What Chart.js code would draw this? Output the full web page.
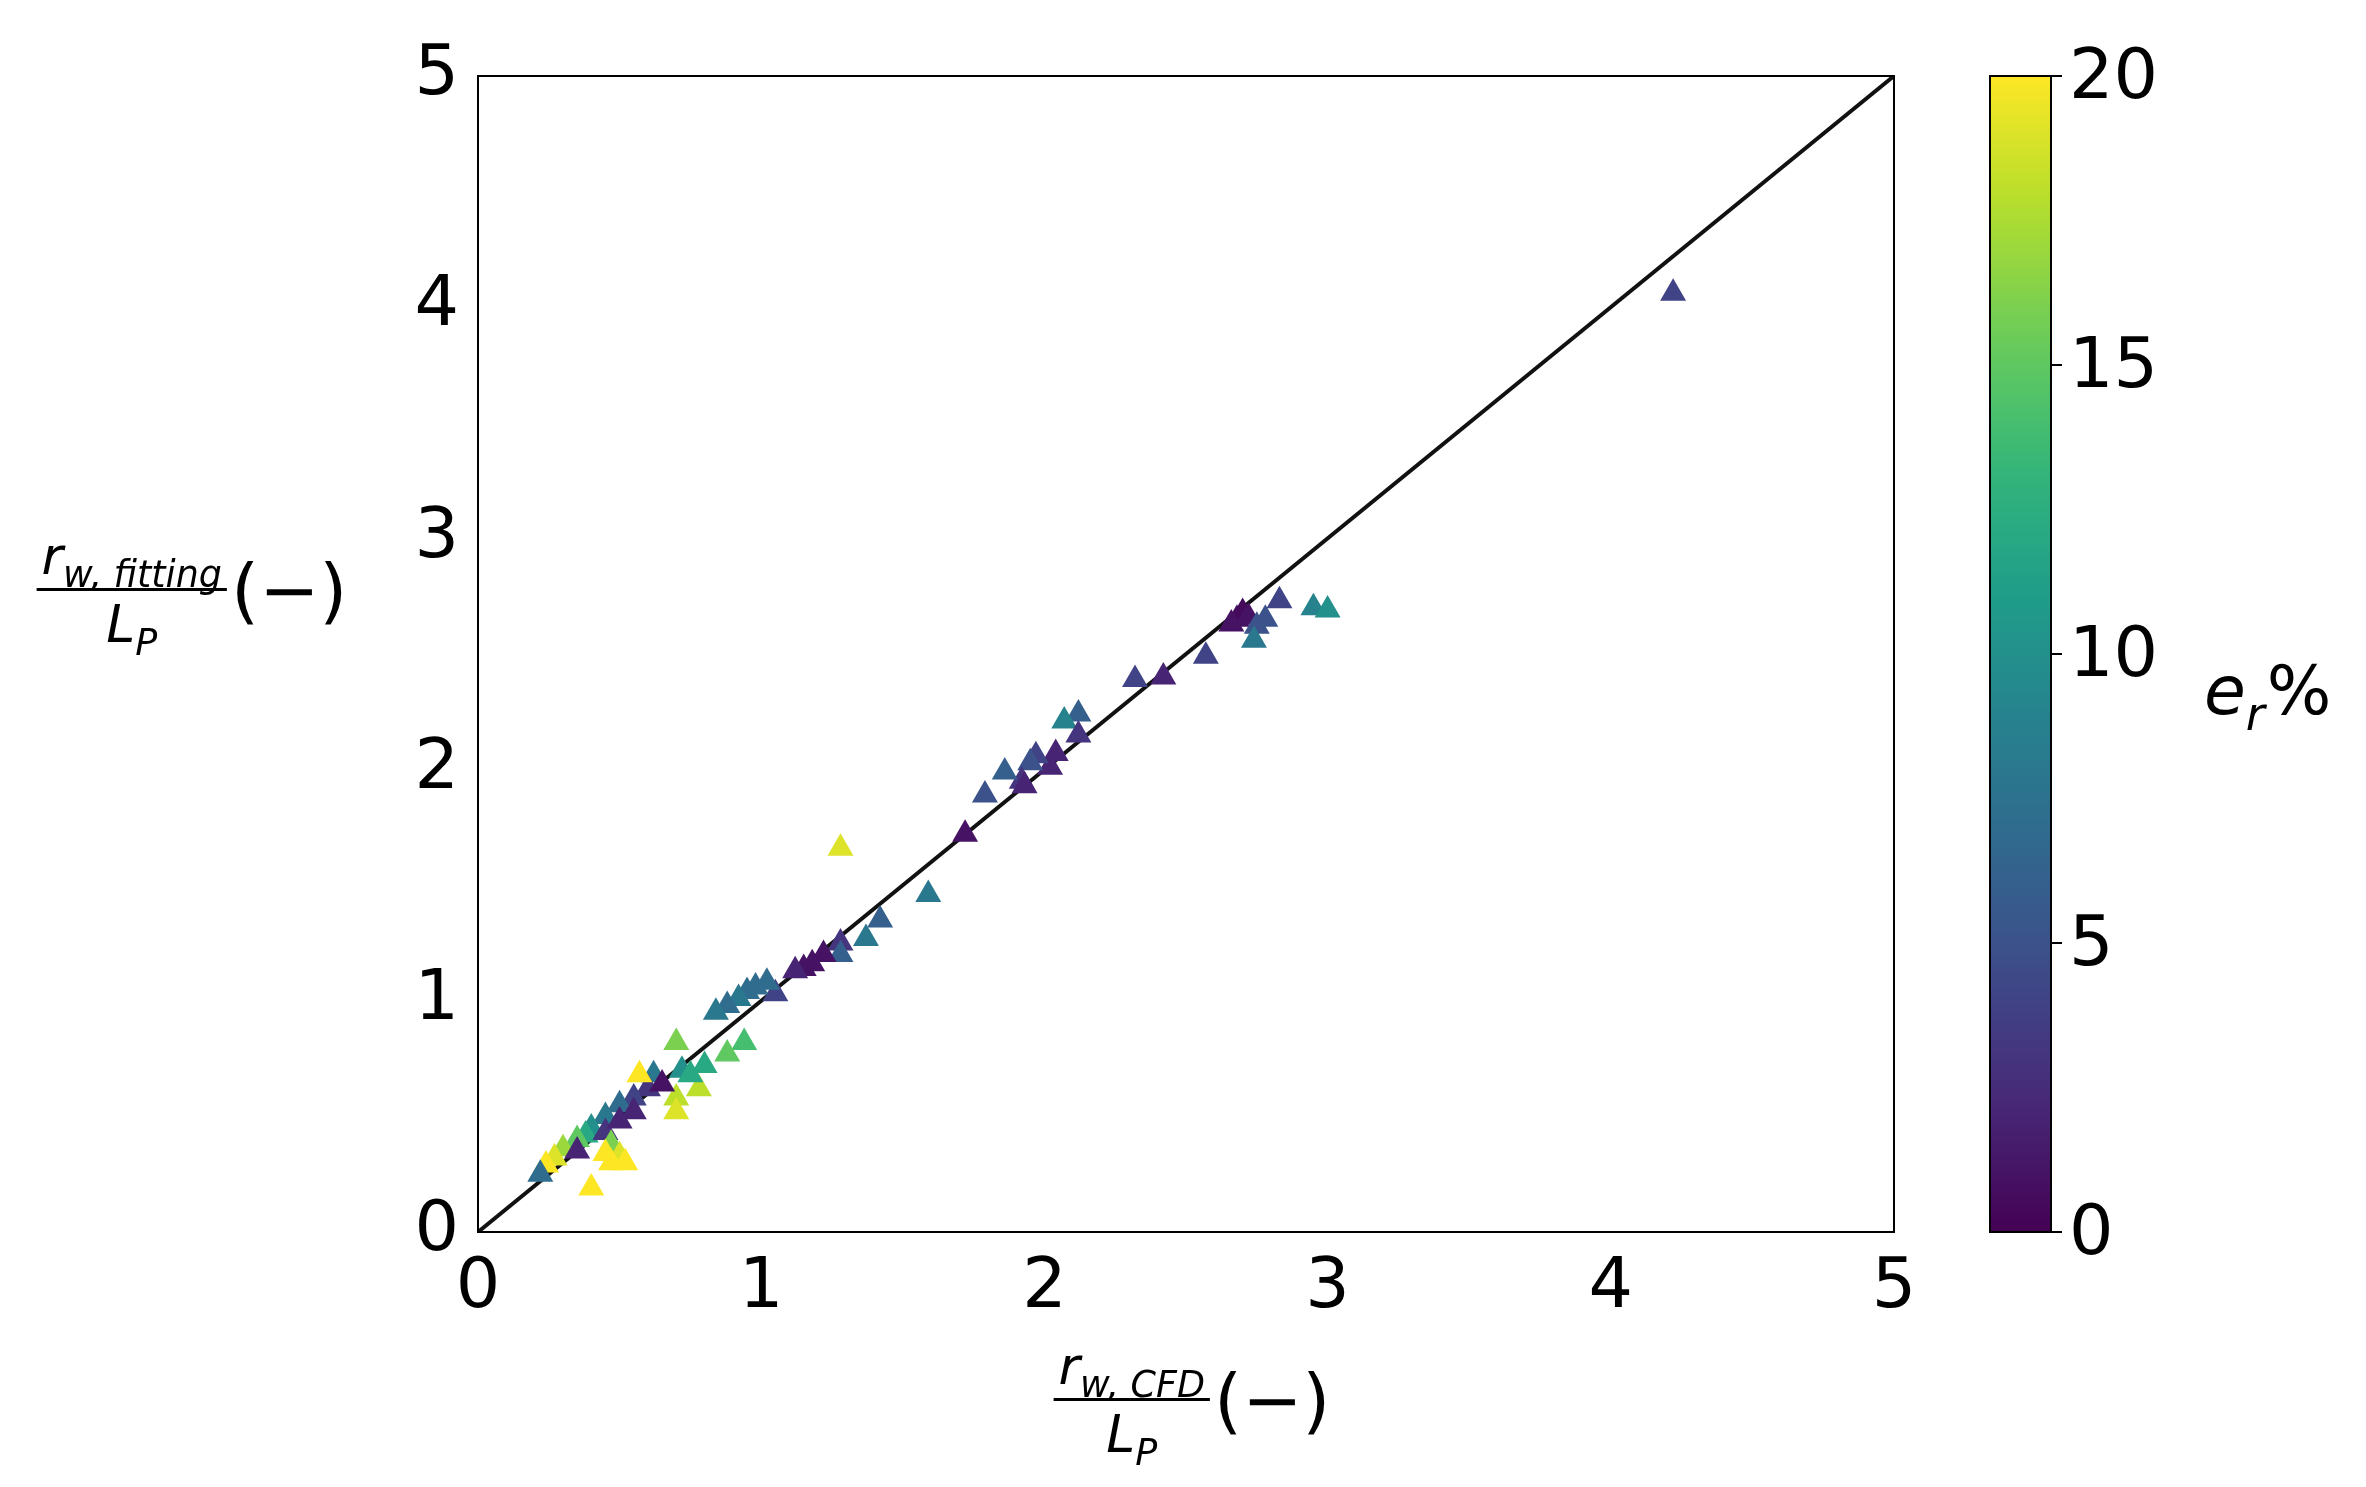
<!DOCTYPE html>
<html>
<head>
<meta charset="utf-8">
<script src="https://cdn.jsdelivr.net/npm/chart.js@4.4.0/dist/chart.umd.min.js"></script>
<style>
  html, body { margin: 0; padding: 0; background: #fff; }
  #wrap { width: 2366px; height: 1487px; }
</style>
</head>
<body>
<div id="wrap"><canvas id="chart" width="2366" height="1487"></canvas></div>
<script>
// r_w,CFD / L_P
const xCfd = [4.22, 2.68, 2.70, 2.72, 2.66, 2.75, 2.78, 2.74, 2.83, 2.95, 3.00,
  2.57, 2.42, 2.32, 2.12, 2.07, 2.12, 2.04, 2.02, 1.97, 1.95, 1.92, 1.86, 1.79, 1.93,
  1.72, 1.59, 1.42, 1.37, 1.28, 1.28, 1.22, 1.18, 1.15, 1.12, 1.28,
  1.05, 1.02, 0.98, 0.95, 0.92, 0.88, 0.84,
  0.94, 0.88, 0.80, 0.78, 0.70, 0.70, 0.70, 0.62, 0.60, 0.55, 0.50, 0.45, 0.40, 0.38,
  0.35, 0.30, 0.27, 0.24, 0.22, 0.45, 0.50, 0.55, 0.65, 0.72, 0.75, 0.57, 0.47, 0.45,
  0.50, 0.47, 0.52, 0.40, 0.35];
// r_w,fitting / L_P
const yFit = [4.06, 2.65, 2.68, 2.66, 2.63, 2.62, 2.65, 2.56, 2.73, 2.70, 2.69,
  2.49, 2.40, 2.39, 2.24, 2.21, 2.15, 2.07, 2.01, 2.06, 2.03, 1.95, 1.99, 1.89, 1.93,
  1.72, 1.46, 1.35, 1.27, 1.25, 1.20, 1.20, 1.16, 1.14, 1.13, 1.66,
  1.03, 1.08, 1.06, 1.04, 1.01, 0.98, 0.95,
  0.82, 0.77, 0.72, 0.62, 0.58, 0.52, 0.82, 0.68, 0.62, 0.58, 0.55, 0.50, 0.45, 0.42,
  0.40, 0.36, 0.32, 0.29, 0.25, 0.43, 0.48, 0.52, 0.64, 0.70, 0.68, 0.68, 0.38, 0.34,
  0.33, 0.30, 0.30, 0.19, 0.35];
// relative error e_r %
const errPct = [4, 1, 0.5, 1, 1, 5, 5, 8, 4, 9, 10,
  4, 2, 4, 6, 9, 3, 2, 2, 4, 5, 3, 6, 5, 2,
  1, 8, 6, 8, 3, 6, 1, 1, 1, 2, 19,
  4, 7, 7, 7, 8, 7, 8,
  14, 15, 12, 18, 18, 19, 16, 8, 3, 4, 7, 8, 10, 12,
  15, 17, 19, 20, 7, 3, 2, 2, 1, 10, 12, 20, 16, 20,
  19, 20, 20, 20, 2];
const axisTicks = [0, 1, 2, 3, 4, 5];
const cbarTicks = [0, 5, 10, 15, 20];

// viridis colormap stops
const viridis = [
  [68, 1, 84], [72, 40, 120], [62, 74, 137], [49, 104, 142], [38, 130, 142],
  [31, 158, 137], [53, 183, 121], [109, 205, 89], [180, 222, 44], [253, 231, 37]
];
function viridisColor(t) {
  t = Math.max(0, Math.min(1, t));
  const p = t * (viridis.length - 1);
  const i = Math.min(Math.floor(p), viridis.length - 2);
  const f = p - i;
  const c = viridis[i].map((v, k) => Math.round(v + (viridis[i + 1][k] - v) * f));
  return `rgb(${c[0]},${c[1]},${c[2]})`;
}

const TICK_FONT = { family: 'DejaVu Sans', size: 70 };

// fraction label helper: numerator, denominator as [main, sub] pairs
function drawFraction(ctx, cx, cy, num, den, tail) {
  const size = 52;
  const measure = parts => {
    ctx.font = `italic ${size}px DejaVu Sans`;
    let w = ctx.measureText(parts[0]).width;
    ctx.font = `italic ${size * 0.7}px DejaVu Sans`;
    return w + ctx.measureText(parts[1]).width;
  };
  const drawPart = (parts, x, y) => {
    ctx.font = `italic ${size}px DejaVu Sans`;
    ctx.fillText(parts[0], x, y);
    const w = ctx.measureText(parts[0]).width;
    ctx.font = `italic ${size * 0.7}px DejaVu Sans`;
    ctx.fillText(parts[1], x + w, y + size * 0.25);
  };
  const wn = measure(num), wd = measure(den);
  const bar = Math.max(wn, wd) + 10;
  ctx.font = `72px DejaVu Sans`;
  const wt = ctx.measureText(tail).width;
  const left = cx - (bar + wt) / 2;
  ctx.fillStyle = '#000';
  ctx.textBaseline = 'alphabetic';
  ctx.textAlign = 'left';
  drawPart(num, left + (bar - wn) / 2, cy - 16);
  drawPart(den, left + (bar - wd) / 2, cy + 52);
  ctx.fillRect(left, cy - 2, bar, 3);
  ctx.font = `72px DejaVu Sans`;
  ctx.fillText(tail, left + bar + 4, cy + 25);
}

const decorations = {
  id: 'decorations',
  afterDraw(chart) {
    const ctx = chart.ctx;
    const area = chart.chartArea;
    ctx.save();
    // plot frame
    ctx.strokeStyle = '#000';
    ctx.lineWidth = 2;
    ctx.strokeRect(area.left, area.top, area.right - area.left, area.bottom - area.top);

    // colorbar
    const cbL = 1990, cbR = 2051;
    const grad = ctx.createLinearGradient(0, area.bottom, 0, area.top);
    for (let i = 0; i <= 20; i++) grad.addColorStop(i / 20, viridisColor(i / 20));
    ctx.fillStyle = grad;
    ctx.fillRect(cbL, area.top, cbR - cbL, area.bottom - area.top);
    ctx.strokeRect(cbL, area.top, cbR - cbL, area.bottom - area.top);
    ctx.fillStyle = '#000';
    ctx.font = `${TICK_FONT.size}px DejaVu Sans`;
    ctx.textAlign = 'left';
    ctx.textBaseline = 'middle';
    cbarTicks.forEach(v => {
      const y = area.bottom - (v / 20) * (area.bottom - area.top);
      ctx.beginPath();
      ctx.moveTo(cbR, y);
      ctx.lineTo(cbR + 11, y);
      ctx.stroke();
      ctx.fillText(String(v), cbR + 18, y + 4);
    });
    // colorbar label e_r%
    ctx.font = 'italic 68px DejaVu Sans';
    ctx.textBaseline = 'alphabetic';
    ctx.fillText('e', 2204, 714);
    let w = ctx.measureText('e').width;
    ctx.font = 'italic 46px DejaVu Sans';
    ctx.fillText('r', 2204 + w, 730);
    let w2 = ctx.measureText('r').width;
    ctx.font = '68px DejaVu Sans';
    ctx.fillText('%', 2204 + w + w2 + 2, 714);

    // axis titles
    drawFraction(ctx, 1190, 1400, ['r', 'w, CFD'], ['L', 'P'], '(−)');
    drawFraction(ctx, 190, 590, ['r', 'w, fitting'], ['L', 'P'], '(−)');
    ctx.restore();
  }
};

const points = xCfd.map((x, i) => ({ x: x, y: yFit[i] }));

new Chart(document.getElementById('chart'), {
  type: 'scatter',
  data: {
    datasets: [
      {
        type: 'line',
        data: [{ x: 0, y: 0 }, { x: 5, y: 5 }],
        borderColor: '#111',
        borderWidth: 4,
        pointRadius: 0,
        order: 2
      },
      {
        data: points,
        pointStyle: 'triangle',
        pointRadius: 15,
        pointBorderWidth: 0,
        backgroundColor: errPct.map(e => viridisColor(e / 20)),
        borderColor: errPct.map(e => viridisColor(e / 20)),
        order: 1
      }
    ]
  },
  options: {
    responsive: false,
    animation: false,
    devicePixelRatio: 1,
    layout: { padding: { left: 20, right: 472, top: 76, bottom: 0 } },
    plugins: { legend: { display: false }, tooltip: { enabled: false } },
    scales: {
      x: {
        type: 'linear', min: 0, max: 5,
        afterBuildTicks: s => { s.ticks = axisTicks.map(v => ({ value: v })); },
        afterFit: s => { s.height = 255; },
        grid: { display: false, drawTicks: true, tickLength: 11, tickColor: '#000' },
        border: { display: true, color: '#000', width: 2 },
        ticks: { font: TICK_FONT, color: '#000', padding: 4, maxRotation: 0 }
      },
      y: {
        type: 'linear', min: 0, max: 5,
        afterBuildTicks: s => { s.ticks = axisTicks.map(v => ({ value: v })); },
        afterFit: s => { s.width = 458; },
        grid: { display: false, drawTicks: true, tickLength: 11, tickColor: '#000' },
        border: { display: true, color: '#000', width: 2 },
        ticks: { font: TICK_FONT, color: '#000', padding: 8 }
      }
    }
  },
  plugins: [decorations]
});
</script>
</body>
</html>
